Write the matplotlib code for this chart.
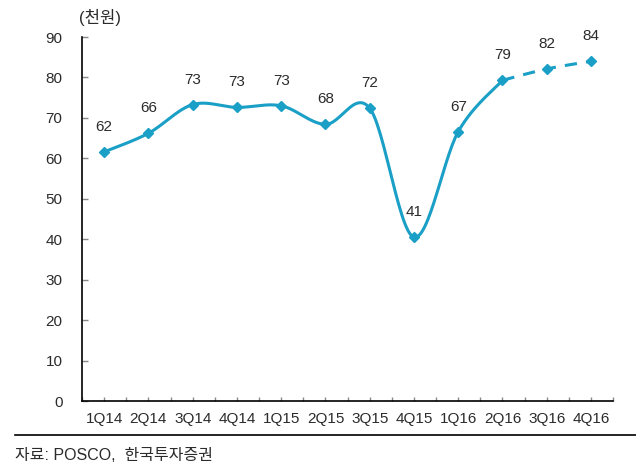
import numpy as np
import matplotlib
matplotlib.use('Agg')
import matplotlib.pyplot as plt

plt.rcParams['font.family'] = ['Liberation Sans', 'Noto Sans CJK KR']

# 데이터
quarters = ['1Q14', '2Q14', '3Q14', '4Q14', '1Q15', '2Q15', '3Q15', '4Q15',
            '1Q16', '2Q16', '3Q16', '4Q16']
values = [61.6, 66.2, 73.3, 72.6, 73.0, 68.4, 72.4, 40.5, 66.6, 79.3, 82.1, 84.0]
labels = ['62', '66', '73', '73', '73', '68', '72', '41', '67', '79', '82', '84']
n_actual = 10  # 2Q16까지 실적, 이후 전망(점선)
yticks = list(range(0, 91, 10))

color = '#1A9FC6'
txt = '#2b2b2b'
fs = 11


def smooth(x, y, steps=30):
    # 엑셀 스타일 곡선 (Catmull-Rom)
    x = np.asarray(x, float)
    y = np.asarray(y, float)
    px = np.concatenate([[x[0]], x, [x[-1]]])
    py = np.concatenate([[y[0]], y, [y[-1]]])
    xs, ys = [], []
    for i in range(1, len(px) - 2):
        t = np.linspace(0, 1, steps)
        for p, out in ((px, xs), (py, ys)):
            p0, p1, p2, p3 = p[i - 1], p[i], p[i + 1], p[i + 2]
            c1 = p1 + (p2 - p0) / 6
            c2 = p2 - (p3 - p1) / 6
            out.extend((1 - t) ** 3 * p1 + 3 * (1 - t) ** 2 * t * c1
                       + 3 * (1 - t) * t ** 2 * c2 + t ** 3 * p2)
    return np.array(xs), np.array(ys)


fig = plt.figure(figsize=(6.36, 4.71), dpi=100)
ax = fig.add_axes([0.129, 0.1486, 0.835, 0.7728])

x = np.arange(len(quarters))
sx, sy = smooth(x[:n_actual], values[:n_actual])
ax.plot(sx, sy, color=color, lw=2.2, solid_capstyle='round', zorder=2)
dx, dy = smooth(x[n_actual - 1:], values[n_actual - 1:])
ax.plot(dx, dy, color=color, lw=2.2, ls=(0, (4, 3)), zorder=2)
ax.plot(x, values, ls='none', marker='D', ms=5.5, color=color, zorder=3)

for xi, v, lab in zip(x, values, labels):
    ax.annotate(lab, (xi, v), xytext=(0, 18), textcoords='offset points',
                ha='center', va='center', fontsize=fs, color=txt)

ax.set_xlim(-0.5, len(quarters) - 0.5)
ax.set_ylim(0, 90)
ax.set_yticks(yticks)
ax.set_yticklabels([str(t) for t in yticks])
ax.set_xticks(x)
ax.set_xticklabels(quarters)
ax.set_xticks(np.arange(-0.5, len(quarters), 1), minor=True)

for s in ['top', 'right']:
    ax.spines[s].set_visible(False)
for s in ['left', 'bottom']:
    ax.spines[s].set_linewidth(1.2)
    ax.spines[s].set_color('black')

ax.tick_params(axis='y', direction='in', length=4, width=1, pad=14,
               labelsize=fs, labelcolor=txt, color='#888888')
ax.tick_params(axis='x', which='both', direction='in', length=3, width=1,
               pad=8, labelsize=fs, labelcolor=txt, color='#888888')

fig.text(0.157, 0.963, '(천원)', ha='center', va='center', fontsize=fs + 1,
         color=txt, fontweight='light')
fig.add_artist(plt.Line2D([0.024, 1.0], [0.0765, 0.0765], color='black',
                          lw=1.2, transform=fig.transFigure))
fig.text(0.024, 0.032, '자료: POSCO,  한국투자증권', ha='left', va='center',
         fontsize=fs + 0.5, color=txt, fontweight='light')

fig.savefig('out.png', dpi=100)
